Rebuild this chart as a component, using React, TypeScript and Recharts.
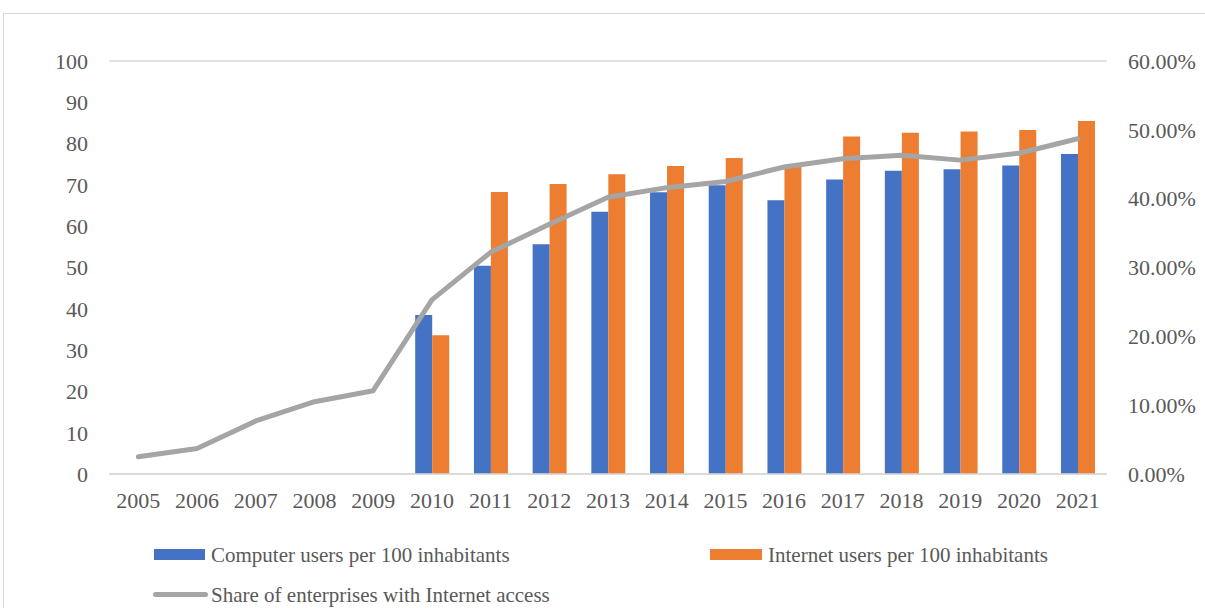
import { ComposedChart, Bar, Line, XAxis, YAxis, CartesianGrid } from 'recharts';

const years = ['2005', '2006', '2007', '2008', '2009', '2010', '2011', '2012', '2013', '2014', '2015', '2016', '2017', '2018', '2019', '2020', '2021'];
const computerUsers = [null, null, null, null, null, 38.5, 50.4, 55.6, 63.5, 68.2, 69.9, 66.3, 71.3, 73.4, 73.8, 74.7, 77.5];
const internetUsers = [null, null, null, null, null, 33.6, 68.3, 70.2, 72.6, 74.6, 76.5, 74.8, 81.7, 82.6, 82.9, 83.3, 85.5];
// share of enterprises, in percent
const enterpriseShare = [2.5, 3.7, 7.7, 10.5, 12.1, 25.3, 32.2, 36.3, 40.2, 41.6, 42.5, 44.6, 45.8, 46.3, 45.6, 46.6, 48.7];
const leftTicks = [0, 10, 20, 30, 40, 50, 60, 70, 80, 90, 100];
const rightTicks = [0, 10, 20, 30, 40, 50, 60];

const BLUE = '#4472C4';
const ORANGE = '#ED7D31';
const GRAY = '#A5A5A5';
const TEXT = '#595959';
const GRID = '#D9D9D9';
const FONT = '"Liberation Serif", "Times New Roman", serif';

const data = years.map((year, i) => ({
  year,
  computer: computerUsers[i],
  internet: internetUsers[i],
  share: enterpriseShare[i],
}));

const tickStyle = { fill: TEXT, fontSize: 22, fontFamily: FONT };

export default function App() {
  return (
    <div style={{ position: 'absolute', left: 0, top: 0, width: 1205, height: 608, overflow: 'hidden', background: '#fff' }}>
      <div style={{ position: 'absolute', left: 3, top: 13, width: 1220, height: 700, border: `1px solid ${GRID}` }} />
      <ComposedChart
        width={1205}
        height={608}
        data={data}
        margin={{ top: 61, right: 18, left: 49, bottom: 104 }}
        barCategoryGap="21.6%"
        barGap={0}
        style={{ position: 'absolute', left: 0, top: 0 }}
      >
        <CartesianGrid vertical={false} stroke={GRID} strokeWidth={1.5} />
        <XAxis
          dataKey="year"
          height={30}
          tickLine={false}
          tickSize={0}
          tickMargin={18}
          axisLine={{ stroke: GRID, strokeWidth: 1.5 }}
          tick={tickStyle}
          interval={0}
        />
        <YAxis
          yAxisId="left"
          width={60}
          domain={[0, 100]}
          ticks={leftTicks}
          axisLine={false}
          tickLine={false}
          tickSize={0}
          tickMargin={21}
          tick={tickStyle}
        />
        <YAxis
          yAxisId="right"
          orientation="right"
          width={80}
          domain={[0, 60]}
          ticks={rightTicks}
          axisLine={false}
          tickLine={false}
          tickSize={0}
          tickMargin={21}
          tick={{ ...tickStyle, textAnchor: 'start' }}
          tickFormatter={(v: number) => `${v.toFixed(2)}%`}
        />
        <Bar yAxisId="left" dataKey="computer" fill={BLUE} isAnimationActive={false} />
        <Bar yAxisId="left" dataKey="internet" fill={ORANGE} isAnimationActive={false} />
        <Line
          yAxisId="right"
          dataKey="share"
          type="linear"
          stroke={GRAY}
          strokeWidth={5}
          strokeLinecap="round"
          strokeLinejoin="round"
          dot={false}
          activeDot={false}
          isAnimationActive={false}
        />
      </ComposedChart>
      <div style={{ position: 'absolute', left: 0, top: 0, fontFamily: FONT, fontSize: 21, color: TEXT }}>
        <div style={{ position: 'absolute', left: 154, top: 549, width: 51, height: 11, background: BLUE }} />
        <div style={{ position: 'absolute', left: 211, top: 540, whiteSpace: 'nowrap', lineHeight: '30px' }}>
          Computer users per 100 inhabitants
        </div>
        <div style={{ position: 'absolute', left: 710, top: 549, width: 52, height: 11, background: ORANGE }} />
        <div style={{ position: 'absolute', left: 768, top: 540, whiteSpace: 'nowrap', lineHeight: '30px' }}>
          Internet users per 100 inhabitants
        </div>
        <div style={{ position: 'absolute', left: 153, top: 592, width: 55, height: 5, borderRadius: 3, background: GRAY }} />
        <div style={{ position: 'absolute', left: 211, top: 580, whiteSpace: 'nowrap', lineHeight: '30px' }}>
          Share of enterprises with Internet access
        </div>
      </div>
    </div>
  );
}
